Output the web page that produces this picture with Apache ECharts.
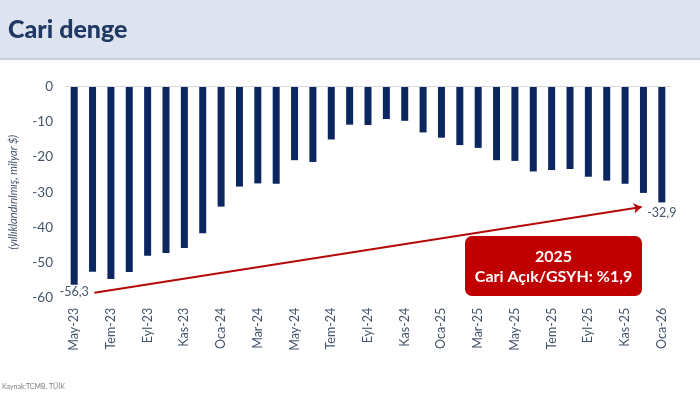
<!DOCTYPE html>
<html>
<head>
<meta charset="utf-8">
<script src="https://cdn.jsdelivr.net/npm/echarts@6/dist/echarts.min.js"></script>
<style>
html,body{margin:0;padding:0;background:#fff;}
#chart{width:700px;height:393px;}
</style>
</head>
<body>
<div id="chart"></div>
<script>
// ---- data ----
const titleText = 'Cari denge';
const yAxisName = '(yıllıklandırılmış, milyar $)';
const sourceText = 'Kaynak:TCMB, TÜİK';
const categories = ['May-23','Haz-23','Tem-23','Ağu-23','Eyl-23','Eki-23','Kas-23','Ara-23',
  'Oca-24','Şub-24','Mar-24','Nis-24','May-24','Haz-24','Tem-24','Ağu-24','Eyl-24','Eki-24','Kas-24','Ara-24',
  'Oca-25','Şub-25','Mar-25','Nis-25','May-25','Haz-25','Tem-25','Ağu-25','Eyl-25','Eki-25','Kas-25','Ara-25',
  'Oca-26'];
const balance = [-56.3,-52.6,-54.7,-52.7,-48.1,-47.3,-45.9,-41.7,
  -34.1,-28.4,-27.5,-27.6,-20.9,-21.4,-15.0,-10.8,-10.9,-9.2,-9.7,-13.0,
  -14.5,-16.6,-17.4,-20.9,-21.1,-24.1,-23.7,-23.4,-25.6,-26.7,-27.6,-30.2,
  -32.9];
const yTicks = [-60,-50,-40,-30,-20,-10,0];
const labelledIdx = [0, 32];
// arrow annotation in data space: [category position, value]
const arrowStart = [1.1, -58.6];
const arrowEnd = [30.9, -34.2];
const boxLines = ['2025', 'Cari Açık/GSYH: %1,9'];

// ---- chart ----
const chart = echarts.init(document.getElementById('chart'));
const FONT = 'Lato';
const fmt = v => v.toFixed(1).replace('.', ',');

const barData = balance.map((v, i) => {
  if (labelledIdx.indexOf(i) >= 0) {
    return {
      value: v,
      label: {
        show: true, position: 'bottom', distance: i === 0 ? 1 : 4,
        formatter: p => fmt(p.value), color: '#44546a', fontSize: 12.5, fontFamily: FONT
      }
    };
  }
  return v;
});

const option = {
  animation: false,
  backgroundColor: '#ffffff',
  title: {
    text: titleText, left: 3, top: 12,
    textStyle: { fontFamily: FONT, fontWeight: 900, fontSize: 25, color: '#1f3864' }
  },
  graphic: [
    { type: 'rect', z: -10, shape: { x: 0, y: 0, width: 700, height: 58 }, style: { fill: '#dde4ef' } },
    { type: 'rect', z: -10, shape: { x: 0, y: 58, width: 700, height: 2 }, style: { fill: '#c9cfd9' } },
    { type: 'text', left: 2, top: 383, style: { text: sourceText, fontSize: 7, fill: '#7f7f7f', fontFamily: FONT } },
    {
      type: 'group', left: 465, top: 236,
      children: [
        { type: 'rect', shape: { x: 0, y: 0, width: 177, height: 60, r: 7 }, style: { fill: '#c00000' } },
        { type: 'text', style: { x: 88.5, y: 21, text: boxLines[0], align: 'center', verticalAlign: 'middle',
          fontSize: 16, fontWeight: 'bold', fill: '#ffffff', fontFamily: FONT } },
        { type: 'text', style: { x: 88.5, y: 41, text: boxLines[1], align: 'center', verticalAlign: 'middle',
          fontSize: 16, fontWeight: 'bold', fill: '#ffffff', fontFamily: FONT } }
      ]
    }
  ],
  grid: { left: 64, right: 29, top: 86.7, bottom: 95.3 },
  xAxis: [
    {
      type: 'category', data: categories, position: 'bottom',
      axisLine: { show: false, onZero: false }, axisTick: { show: false },
      axisLabel: { interval: 1, rotate: 90, margin: 10, color: '#44546a', fontSize: 12.5, fontFamily: FONT }
    },
    { type: 'value', min: -0.5, max: categories.length - 0.5, show: false }
  ],
  yAxis: {
    type: 'value', min: yTicks[0], max: yTicks[yTicks.length - 1], interval: 10,
    name: yAxisName, nameLocation: 'middle', nameGap: 46, nameRotate: 90,
    nameTextStyle: { fontStyle: 'italic', fontSize: 11, color: '#44546a', fontFamily: FONT },
    axisLine: { show: false }, axisTick: { show: false }, splitLine: { show: false },
    axisLabel: { margin: 12, color: '#44546a', fontSize: 13.5, fontFamily: FONT }
  },
  series: [
    {
      type: 'bar', data: barData, barWidth: 7, xAxisIndex: 0,
      itemStyle: { color: '#0c2660' },
      markLine: {
        silent: true, symbol: 'none', label: { show: false },
        lineStyle: { color: '#d9d9d9', width: 1, type: 'solid' },
        data: [{ yAxis: 0 }]
      }
    },
    {
      type: 'line', xAxisIndex: 1, data: [], symbol: 'none',
      markLine: {
        silent: true, symbol: ['none', 'arrow'], symbolSize: 8,
        label: { show: false },
        lineStyle: { color: '#b40a0a', width: 2, type: 'solid' },
        itemStyle: { color: '#b40a0a' },
        data: [[{ coord: arrowStart }, { coord: arrowEnd }]]
      }
    }
  ]
};
chart.setOption(option);
</script>
</body>
</html>
